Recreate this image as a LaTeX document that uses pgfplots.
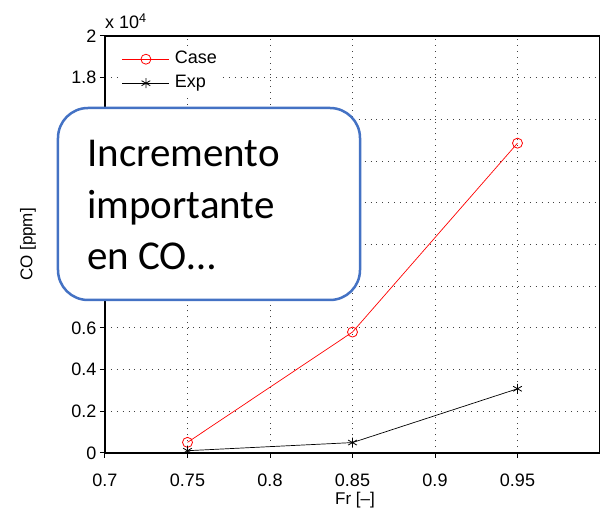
\documentclass[border=0pt]{standalone}
\usepackage{pgfplots}
\pgfplotsset{compat=1.18}
\usepackage{fontspec}
\setmainfont{Liberation Sans}
\newfontfamily\carlito{Carlito}
\usetikzlibrary{calc}
\definecolor{boxblue}{RGB}{68,114,196}
\begin{document}
\begin{tikzpicture}
\begin{axis}[name=ax, scale only axis, width=495pt, height=417pt,
  xmin=0.7, xmax=1.0, ymin=0, ymax=20000,
  xtick={0.7,0.75,0.8,0.85,0.9,0.95},
  ytick={0,2000,4000,6000,8000,10000,12000,14000,16000,18000,20000},
  scaled y ticks=base 10:-4, ytick scale label code/.code={},
  /pgf/number format/assume math mode=true,
  tick label style={font=\fontsize{18}{20}\selectfont},
  xticklabel style={yshift=-12pt},
  tick align=outside, tick pos=left, major tick length=5pt,
  axis line style={line width=1.1pt},
  every tick/.style={black, line width=1pt},
  grid=major,
  major grid style={black!75, line width=0.8pt, dash pattern=on 0.9pt off 5pt},
  xlabel={Fr [–]}, ylabel={CO [ppm]},
  every axis x label/.style={at={(axis description cs:0.505,-0.1127)}, anchor=center, font=\fontsize{17}{19}\selectfont},
  every axis y label/.style={at={(axis description cs:-0.1556,0.5)}, rotate=90, anchor=center, font=\fontsize{17}{19}\selectfont},
  legend style={at={(axis description cs:0.026,0.9736)}, anchor=north west, draw=none, fill=white,
    font=\fontsize{18}{20}\selectfont, inner sep=4pt,
    nodes={inner sep=0pt, text height=12pt, text depth=4pt},
    row sep=8pt, column sep=5pt},
  legend cell align=left,
  legend image code/.code={\draw[mark repeat=2, mark phase=2, #1] plot coordinates {(0pt,0pt) (23.5pt,0pt) (47pt,0pt)};},
]
\addplot[red, line width=0.7pt, mark=o, mark size=5pt, mark options={line width=0.8pt}] coordinates {
  (0.75,510) (0.85,5800) (0.95,14860)};
\addlegendentry{Case}
\addplot[black, line width=0.7pt, mark=asterisk, mark size=5pt, mark options={line width=0.8pt}] coordinates {
  (0.75,110) (0.85,500) (0.95,3080)};
\addlegendentry{Exp}
\end{axis}
\node[anchor=base west, inner sep=0pt, font=\fontsize{18}{20}\selectfont] at ($(ax.north west)+(0pt,7pt)$) {x 10\textsuperscript{4}};
\draw[boxblue, line width=2.5pt, rounded corners=30pt, fill=white] ($(ax.south west)+(-47pt,153pt)$) rectangle ($(ax.south west)+(255pt,345pt)$);
\begin{scope}[every node/.style={anchor=base west, inner sep=0pt, font=\carlito\fontsize{41}{46}\selectfont}]
\node at ($(ax.south west)+(-18pt,286pt)$) {Incremento};
\node at ($(ax.south west)+(-18pt,234pt)$) {importante};
\node at ($(ax.south west)+(-18pt,183pt)$) {en CO…};
\end{scope}
\pgfresetboundingbox
\path ($(ax.south west)+(-105pt,-60pt)$) rectangle ($(ax.north east)+(0pt,36pt)$);
\end{tikzpicture}
\end{document}
